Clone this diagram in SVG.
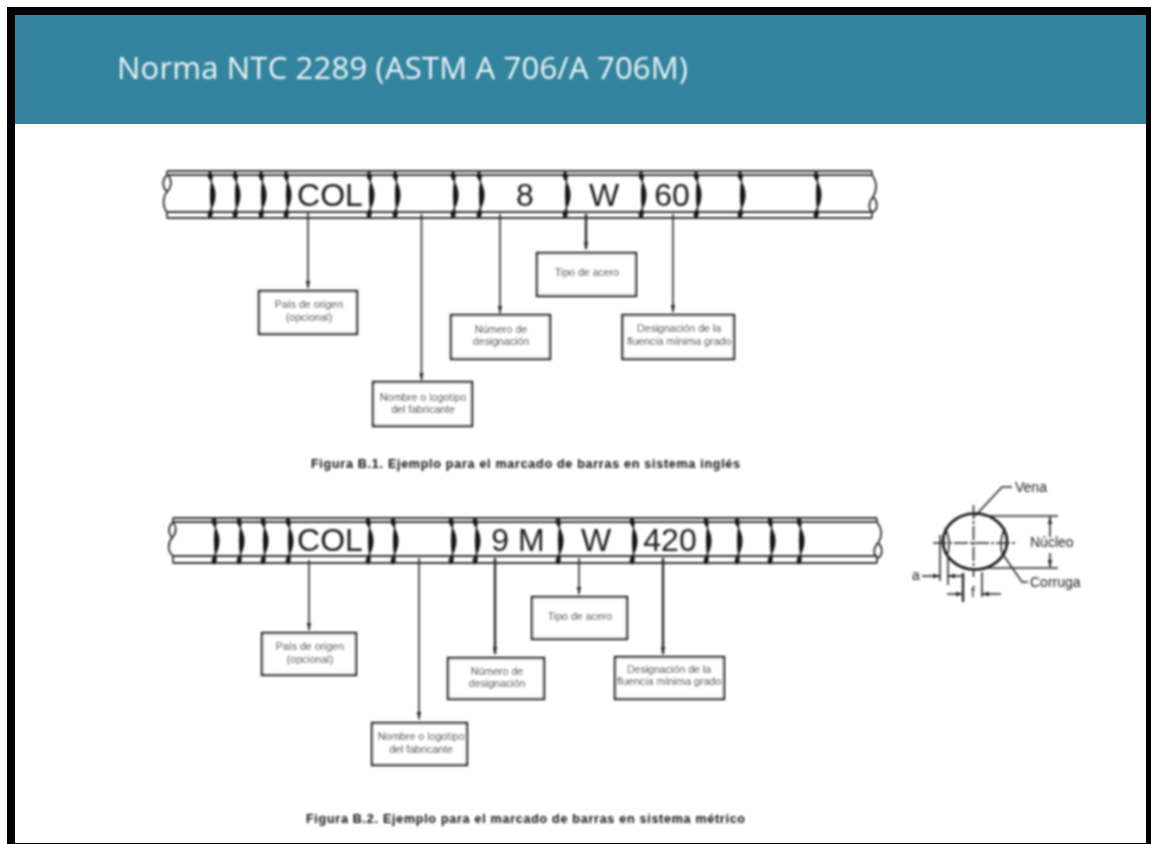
<svg xmlns="http://www.w3.org/2000/svg" width="1151" height="844" viewBox="0 0 1151 844">
<style>
.l{stroke:#2a2a2a;stroke-width:1.600;fill:none}
.h{stroke-width:2.400}
.bar{stroke:#333;stroke-width:1.800;fill:none}
.box{stroke:#222;stroke-width:2.400;fill:#fff}
.t{font-family:"Liberation Sans",Arial,sans-serif;font-size:10.600px;fill:#2c2c2c;text-anchor:middle}
.m{font-family:"Liberation Sans",Arial,sans-serif;font-size:32px;fill:#1c1c1c;text-anchor:middle}
.c{font-family:"Liberation Sans",Arial,sans-serif;font-size:12.500px;font-weight:bold;fill:#111;text-anchor:middle}
.s{font-family:"Liberation Sans",Arial,sans-serif;font-size:14px;fill:#222}
</style>
<defs>
<filter id="b" x="-2%" y="-2%" width="104%" height="104%"><feGaussianBlur stdDeviation="0.8"/></filter>
<marker id="a" markerWidth="8" markerHeight="6" refX="7" refY="3" orient="auto" markerUnits="userSpaceOnUse"><path d="M0 .8L8 3L0 5.200Z" fill="#2a2a2a"/></marker>
<path id="rib" d="M0 0Q-3 3 -1 6Q11 23 -1 40Q-3 43 0 46Q3 43 2 40Q-1 23 2 6Q3 3 0 0Z" fill="#111" stroke="#222" stroke-width="1.200"/>
</defs>
<rect width="1151" height="844" fill="#fff"/>
<rect x="7" y="7" width="1144" height="837" fill="#000"/>
<rect x="15" y="15" width="1131" height="828" fill="#fff"/>
<g id="header"><rect x="15" y="15" width="1131" height="109" fill="#33849e"/>
<text x="117" y="79" font-family="'Open Sans','Noto Sans',sans-serif" font-size="31px" fill="#eef5f6" textLength="571" lengthAdjust="spacing" filter="url(#b)">Norma NTC 2289 (ASTM A 706/A 706M)</text></g>
<g filter="url(#b)">
<g id="bar1">
<path class="bar" d="M167 171H872M167 175H872M167 212H872M167 218H872"/>
<path class="bar" d="M167 171V175C161 181 163 188 167 192C172 186 172 180 168 175M167 192C162 198 163 208 167 212V218M872 171V175C878 183 877 190 873 197C868 203 868 210 873 212C878 210 878 201 873 197M872 212V218"/>
<g id="ribs1">
<use href="#rib" x="210" y="172"/><use href="#rib" x="235" y="172"/><use href="#rib" x="261" y="172"/><use href="#rib" x="286" y="172"/><use href="#rib" x="369" y="172"/><use href="#rib" x="395" y="172"/><use href="#rib" x="453" y="172"/><use href="#rib" x="479" y="172"/><use href="#rib" x="565" y="172"/><use href="#rib" x="641" y="172"/><use href="#rib" x="696" y="172"/><use href="#rib" x="740" y="172"/><use href="#rib" x="816" y="172"/>
</g>
<text class="m" x="330" y="206">COL</text><text class="m" x="525" y="206">8</text><text class="m" x="604" y="206">W</text><text class="m" x="672" y="206">60</text>
</g>
<g id="bar2">
<path class="bar" d="M173 518H877M173 522H877M173 556H877M173 563H877"/>
<path class="bar" d="M173 518V522C167 528 169 534 172 538C177 532 177 527 173 522M172 538C167 544 168 552 173 556V563M877 518V522C883 530 882 536 878 543C873 548 873 555 878 558C883 555 883 547 878 543M877 556V563"/>
<g id="ribs2">
<use href="#rib" x="214" y="518"/><use href="#rib" x="239" y="518"/><use href="#rib" x="263" y="518"/><use href="#rib" x="288" y="518"/><use href="#rib" x="368" y="518"/><use href="#rib" x="393" y="518"/><use href="#rib" x="451" y="518"/><use href="#rib" x="475" y="518"/><use href="#rib" x="558" y="518"/><use href="#rib" x="632" y="518"/><use href="#rib" x="706" y="518"/><use href="#rib" x="737" y="518"/><use href="#rib" x="770" y="518"/><use href="#rib" x="799" y="518"/>
</g>
<text class="m" x="330" y="551">COL</text><text class="m" x="518" y="551">9 M</text><text class="m" x="596" y="551">W</text><text class="m" x="670" y="551">420</text>
</g>
<g id="connectors">
<path class="l" d="M308 213V288" marker-end="url(#a)"/>
<path class="l" d="M421.500 214V380" marker-end="url(#a)"/>
<path class="l" d="M500 214V313" marker-end="url(#a)"/>
<path class="l h" d="M586 214V249" marker-end="url(#a)"/>
<path class="l" d="M673 214V312" marker-end="url(#a)"/>
<path class="l" d="M309 560V630" marker-end="url(#a)"/>
<path class="l" d="M419 558V719" marker-end="url(#a)"/>
<path class="l h" d="M495 558V654" marker-end="url(#a)"/>
<path class="l" d="M579 558V594" marker-end="url(#a)"/>
<path class="l h" d="M663 558V654" marker-end="url(#a)"/>
</g>
<g id="n1"><rect class="box" x="259" y="291" width="98" height="43"/><text class="t" x="309" y="308">País de origen</text><text class="t" x="309" y="321">(opcional)</text></g>
<g id="n2"><rect class="box" x="373" y="382" width="99" height="44"/><text class="t" x="423" y="401">Nombre o logotipo</text><text class="t" x="423" y="413">del fabricante</text></g>
<g id="n3"><rect class="box" x="451" y="315" width="99" height="44"/><text class="t" x="501" y="333">Número de</text><text class="t" x="501" y="345">designación</text></g>
<g id="n4"><rect class="box" x="537" y="253" width="99" height="43"/><text class="t" x="587" y="276">Tipo de acero</text></g>
<g id="n5"><rect class="box" x="622.500" y="315" width="111.500" height="44"/><text class="t" x="679" y="332">Designación de la</text><text class="t" x="679" y="345">fluencia mínima grado</text></g>
<g id="n6"><rect class="box" x="262" y="633" width="94" height="42"/><text class="t" x="310" y="650">País de origen</text><text class="t" x="310" y="663">(opcional)</text></g>
<g id="n7"><rect class="box" x="372" y="723" width="95" height="42"/><text class="t" x="421" y="740">Nombre o logotipo</text><text class="t" x="421" y="753">del fabricante</text></g>
<g id="n8"><rect class="box" x="448" y="658" width="96" height="41"/><text class="t" x="497" y="675">Número de</text><text class="t" x="497" y="687">designación</text></g>
<g id="n9"><rect class="box" x="532" y="597" width="95" height="42"/><text class="t" x="580" y="620">Tipo de acero</text></g>
<g id="n10"><rect class="box" x="615" y="657" width="109" height="42"/><text class="t" x="669" y="673">Designación de la</text><text class="t" x="669" y="685">fluencia mínima grado</text></g>
<text class="c" x="525.500" y="468" textLength="429" lengthAdjust="spacing">Figura B.1. Ejemplo para el marcado de barras en sistema inglés</text>
<text class="c" x="525.500" y="823" textLength="439" lengthAdjust="spacing">Figura B.2. Ejemplo para el marcado de barras en sistema métrico</text>
<g id="section">
<ellipse cx="975" cy="541.500" rx="32" ry="28" fill="none" stroke="#111" stroke-width="2.600"/>
<path class="l" d="M945 528Q952 541 947 556M1005 528Q998 541 1003 556"/>
<path class="l" stroke-dasharray="14 2 3 2" d="M933 543H1015M973.500 505V577"/>
<path class="l" d="M975 516L1002 487H1012M1002 553L1022 582H1028"/>
<path class="l" d="M985 516H1058M985 568H1058"/>
<path class="l" d="M1050 537V517" marker-end="url(#a)"/>
<path class="l" d="M1050 553V567" marker-end="url(#a)"/>
<path class="l" d="M940 535V581M948 555V585M982 572V597"/>
<path class="l h" d="M963 573V602"/>
<path class="l" d="M922 576H940" marker-end="url(#a)"/>
<path class="l" d="M963 576H948" marker-end="url(#a)"/>
<path class="l" d="M947 594H963" marker-end="url(#a)"/>
<path class="l" d="M1001 594H982" marker-end="url(#a)"/>
<text class="s" x="1015" y="492">Vena</text>
<text class="s" x="1030" y="547">Núcleo</text>
<text class="s" x="1030" y="587">Corruga</text>
<text class="s" x="912" y="580">a</text>
<text class="s" x="971" y="597">f</text>
</g>
</g>
</svg>
